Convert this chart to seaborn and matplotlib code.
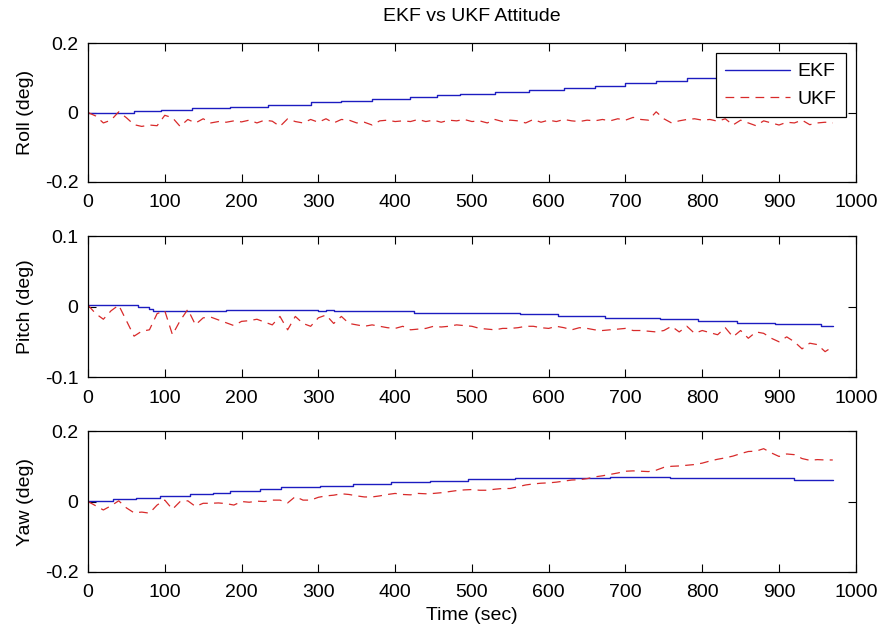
import numpy as np
import pandas as pd
import matplotlib
matplotlib.use("Agg")
import matplotlib.pyplot as plt
import seaborn as sns

# ---------------------------------------------------------------- data
# EKF estimates are held between filter updates (piecewise constant)
roll_ekf_t = [0, 60, 95, 135, 185, 235, 290, 330, 370, 420, 455, 485, 530,
              575, 620, 660, 700, 740, 780, 820, 860, 900, 940, 970]
roll_ekf = [0.000, 0.004, 0.008, 0.012, 0.017, 0.022, 0.029, 0.034, 0.039,
            0.045, 0.049, 0.053, 0.058, 0.064, 0.071, 0.077, 0.084, 0.091,
            0.098, 0.105, 0.112, 0.119, 0.126, 0.126]

pitch_ekf_t = [0, 65, 80, 85, 180, 300, 310, 320, 425, 510, 562, 612, 673,
               745, 795, 845, 895, 955, 970]
pitch_ekf = [0.002, 0.000, -0.004, -0.006, -0.005, -0.006, -0.005, -0.006,
             -0.009, -0.009, -0.011, -0.013, -0.016, -0.018, -0.021, -0.023,
             -0.025, -0.028, -0.028]

yaw_ekf_t = [0, 33, 63, 94, 133, 163, 185, 224, 252, 302, 345, 395, 445,
             495, 556, 680, 758, 920, 970]
yaw_ekf = [0.002, 0.006, 0.011, 0.016, 0.020, 0.025, 0.030, 0.035, 0.040,
           0.045, 0.050, 0.055, 0.059, 0.063, 0.067, 0.071, 0.066, 0.061,
           0.061]

# UKF estimates sampled every 10 s
ukf_t = list(range(0, 980, 10))

roll_ukf = [
    0.000, -0.010, -0.030, -0.022, 0.002, -0.015, -0.035, -0.040, -0.036, -0.038,
    -0.008, -0.015, -0.040, -0.020, -0.030, -0.018, -0.030, -0.026, -0.028, -0.024,
    -0.027, -0.022, -0.030, -0.022, -0.025, -0.040, -0.018, -0.026, -0.030, -0.020,
    -0.028, -0.018, -0.030, -0.020, -0.022, -0.030, -0.028, -0.036, -0.024, -0.022,
    -0.026, -0.024, -0.026, -0.020, -0.026, -0.022, -0.028, -0.022, -0.024, -0.020,
    -0.026, -0.024, -0.030, -0.020, -0.026, -0.022, -0.024, -0.030, -0.020, -0.028,
    -0.022, -0.026, -0.020, -0.024, -0.026, -0.022, -0.024, -0.020, -0.024, -0.018,
    -0.022, -0.014, -0.020, -0.022, 0.002, -0.018, -0.030, -0.024, -0.020, -0.018,
    -0.022, -0.020, -0.025, -0.018, -0.036, -0.022, -0.030, -0.038, -0.024, -0.030,
    -0.036, -0.028, -0.030, -0.022, -0.035, -0.030, -0.028, -0.030]

pitch_ukf = [
    0.002, -0.010, -0.018, -0.006, 0.002, -0.020, -0.042, -0.035, -0.033, -0.010,
    -0.006, -0.040, -0.020, -0.004, -0.026, -0.016, -0.015, -0.019, -0.023, -0.027,
    -0.021, -0.020, -0.018, -0.022, -0.026, -0.014, -0.033, -0.014, -0.024, -0.028,
    -0.016, -0.012, -0.024, -0.014, -0.024, -0.026, -0.028, -0.026, -0.028, -0.030,
    -0.031, -0.028, -0.033, -0.032, -0.031, -0.028, -0.029, -0.028, -0.026, -0.027,
    -0.028, -0.031, -0.032, -0.033, -0.031, -0.031, -0.030, -0.028, -0.028, -0.030,
    -0.031, -0.028, -0.030, -0.033, -0.030, -0.031, -0.033, -0.034, -0.033, -0.032,
    -0.031, -0.034, -0.034, -0.035, -0.036, -0.034, -0.028, -0.036, -0.028, -0.038,
    -0.034, -0.037, -0.040, -0.030, -0.043, -0.034, -0.045, -0.036, -0.038, -0.045,
    -0.050, -0.043, -0.050, -0.060, -0.052, -0.054, -0.064, -0.057]

yaw_ukf = [
    0.000, -0.012, -0.024, -0.012, 0.002, -0.018, -0.032, -0.030, -0.033, -0.010,
    0.004, -0.022, 0.000, 0.002, -0.014, -0.005, -0.005, -0.004, -0.006, -0.010,
    0.000, -0.002, 0.001, 0.000, 0.004, 0.004, -0.004, 0.014, 0.004, 0.004,
    0.012, 0.016, 0.018, 0.022, 0.020, 0.016, 0.013, 0.013, 0.016, 0.020,
    0.023, 0.020, 0.019, 0.023, 0.022, 0.023, 0.025, 0.028, 0.031, 0.033,
    0.034, 0.032, 0.032, 0.035, 0.037, 0.037, 0.042, 0.047, 0.050, 0.052,
    0.053, 0.055, 0.058, 0.061, 0.062, 0.065, 0.070, 0.073, 0.077, 0.081,
    0.086, 0.087, 0.086, 0.085, 0.089, 0.097, 0.100, 0.101, 0.103, 0.105,
    0.109, 0.115, 0.120, 0.124, 0.129, 0.136, 0.142, 0.143, 0.150, 0.138,
    0.128, 0.135, 0.133, 0.122, 0.117, 0.119, 0.118, 0.118]

x_ticks = [0, 100, 200, 300, 400, 500, 600, 700, 800, 900, 1000]
panel_labels = ["Roll (deg)", "Pitch (deg)", "Yaw (deg)"]
panel_ylims = [(-0.2, 0.2), (-0.1, 0.1), (-0.2, 0.2)]
panel_yticks = [[-0.2, 0, 0.2], [-0.1, 0, 0.1], [-0.2, 0, 0.2]]

# ---------------------------------------------------------------- style
sns.set_style("ticks")
plt.rcParams["font.family"] = ["Liberation Sans", "DejaVu Sans"]
plt.rcParams["axes.unicode_minus"] = False
plt.rcParams["font.size"] = 14
plt.rcParams["text.color"] = "black"
plt.rcParams["axes.labelcolor"] = "black"

EKF_COLOR = "#1c1cc0"
UKF_COLOR = "#d82a2a"

fig = plt.figure(figsize=(8.8, 6.33), dpi=100)
rects = [
    [0.100, 0.7125, 0.8725, 0.2195],
    [0.100, 0.4044, 0.8725, 0.2226],
    [0.100, 0.0964, 0.8725, 0.2226],
]

series = [
    (roll_ekf_t, roll_ekf, roll_ukf),
    (pitch_ekf_t, pitch_ekf, pitch_ukf),
    (yaw_ekf_t, yaw_ekf, yaw_ukf),
]

axes = []
for rect, (et, ev, uv), lab, ylim, yt in zip(rects, series, panel_labels,
                                            panel_ylims, panel_yticks):
    ax = fig.add_axes(rect)
    ekf_df = pd.DataFrame({"t": et, "v": ev})
    ukf_df = pd.DataFrame({"t": ukf_t, "v": uv})
    sns.lineplot(data=ekf_df, x="t", y="v", ax=ax, color=EKF_COLOR,
                 linewidth=1.0, drawstyle="steps-post", estimator=None,
                 label="EKF")
    sns.lineplot(data=ukf_df, x="t", y="v", ax=ax, color=UKF_COLOR,
                 linewidth=0.9, linestyle=(0, (7, 5)), estimator=None,
                 label="UKF")
    ax.set_xlim(0, 1000)
    ax.set_ylim(*ylim)
    ax.set_xticks(x_ticks)
    ax.set_xticklabels([str(v) for v in x_ticks])
    ax.set_yticks(yt)
    ax.set_yticklabels(["0" if v == 0 else f"{v:g}" for v in yt])
    ax.tick_params(direction="in", length=6, width=0.8, top=True, right=True,
                   labelsize=14, colors="black")
    ax.tick_params(axis="x", pad=9)
    ax.tick_params(axis="y", pad=7)
    for sp in ax.spines.values():
        sp.set_visible(True)
        sp.set_linewidth(0.9)
        sp.set_color("black")
    ax.set_ylabel(lab, fontsize=14, labelpad=8, color="black")
    ax.set_xlabel("")
    if ax.get_legend() is not None:
        ax.get_legend().remove()
    axes.append(ax)

axes[0].set_title("EKF vs UKF Attitude", fontsize=14, pad=16, color="black")
axes[2].set_xlabel("Time (sec)", fontsize=14, labelpad=4, color="black")

handles, labels = axes[0].get_legend_handles_labels()
leg = axes[0].legend(handles, labels, loc="upper right",
                     bbox_to_anchor=(0.9614, 0.9163),
                     bbox_transform=fig.transFigure, borderaxespad=0,
                     fontsize=14, frameon=True, fancybox=False,
                     framealpha=1.0, edgecolor="black", handlelength=3.3,
                     handletextpad=0.4, borderpad=0.5, labelspacing=0.5)
leg.get_frame().set_linewidth(0.9)
for txt in leg.get_texts():
    txt.set_color("black")

fig.savefig("out.png", dpi=100, facecolor="white")
